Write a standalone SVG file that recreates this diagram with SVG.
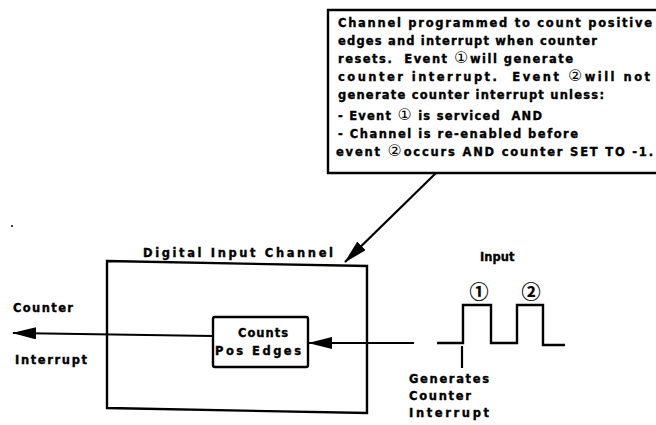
<svg xmlns="http://www.w3.org/2000/svg" width="656" height="425" viewBox="0 0 656 425">
<style>
.t{font-family:"DejaVu Sans","Liberation Sans",sans-serif;font-weight:bold;font-size:11.5px;fill:#000;stroke:#000;stroke-width:0.35;white-space:pre}
.c{font-family:"DejaVu Sans","Noto Sans CJK SC",sans-serif;font-weight:normal;font-size:16px;stroke:none}
.w{font-family:"Noto Sans CJK SC","DejaVu Sans",sans-serif;font-weight:bold;font-size:19px;fill:#000;stroke:#000;stroke-width:0.2}
.ln{fill:none;stroke:#000;stroke-width:2.4;stroke-linejoin:miter}
.cn{fill:none;stroke:#000;stroke-width:2.2}
</style>
<defs>
<marker id="ah" markerUnits="userSpaceOnUse" markerWidth="24" markerHeight="12" refX="23" refY="6" orient="auto">
<path d="M0,0 L24,6 L0,12 z" fill="#000"/>
</marker>
</defs>
<rect width="656" height="425" fill="#fff"/>
<g id="callout">
<path class="ln" d="M658,10 H328 V173 H658"/>
<text class="t" x="338" y="27" textLength="314" lengthAdjust="spacing">Channel programmed to count positive</text>
<text class="t" x="338" y="45" textLength="259" lengthAdjust="spacing">edges and interrupt when counter</text>
<text class="t" x="338" y="63" textLength="235" lengthAdjust="spacing">resets.  Event <tspan class="c">①</tspan>will generate</text>
<text class="t" x="338" y="81" textLength="312" lengthAdjust="spacing">counter interrupt.  Event <tspan class="c">②</tspan>will not</text>
<text class="t" x="338" y="99" textLength="266" lengthAdjust="spacing">generate counter interrupt unless:</text>
<text class="t" x="338" y="120" textLength="204" lengthAdjust="spacing">- Event <tspan class="c">①</tspan> is serviced  AND</text>
<text class="t" x="338" y="138" textLength="240" lengthAdjust="spacing">- Channel is re-enabled before</text>
<text class="t" x="336" y="156" textLength="317" lengthAdjust="spacing">event <tspan class="c">②</tspan>occurs AND counter SET TO -1.</text>
</g>
<g id="digital-input-channel">
<polygon class="ln" points="107,261 367,266 367,413 107,408"/>
<text class="t" x="143" y="257" textLength="190" lengthAdjust="spacing">Digital Input Channel</text>
</g>
<g id="counts-pos-edges">
<rect class="ln" x="213" y="317" width="95" height="50" rx="2"/>
<text class="t" x="238" y="337" textLength="50" lengthAdjust="spacing">Counts</text>
<text class="t" x="215" y="355" textLength="86" lengthAdjust="spacing">Pos Edges</text>
</g>
<g id="counter-interrupt">
<text class="t" x="13" y="312" textLength="60" lengthAdjust="spacing">Counter</text>
<text class="t" x="15" y="364" textLength="72" lengthAdjust="spacing">Interrupt</text>
</g>
<g id="input">
<text class="t" x="480" y="261">Input</text>
<path class="ln" d="M437,343 H463 V305 H491 V343 H517 V305 H543 V345 H565"/>
<path class="cn" d="M462,346 V368"/>
<text class="w" x="479" y="299" text-anchor="middle">①</text>
<text class="w" x="531" y="299" text-anchor="middle">②</text>
</g>
<g id="generates">
<text class="t" x="409" y="383" textLength="80" lengthAdjust="spacing">Generates</text>
<text class="t" x="409" y="400" textLength="62" lengthAdjust="spacing">Counter</text>
<text class="t" x="409" y="417" textLength="80" lengthAdjust="spacing">Interrupt</text>
</g>
<circle cx="12" cy="226" r="1" fill="#000"/>
<g id="connectors">
<line class="cn" x1="436" y1="173" x2="345" y2="262" marker-end="url(#ah)"/>
<line class="cn" x1="213" y1="336" x2="13" y2="333" marker-end="url(#ah)"/>
<line class="cn" x1="414" y1="343" x2="309" y2="343" marker-end="url(#ah)"/>
</g>
</svg>
